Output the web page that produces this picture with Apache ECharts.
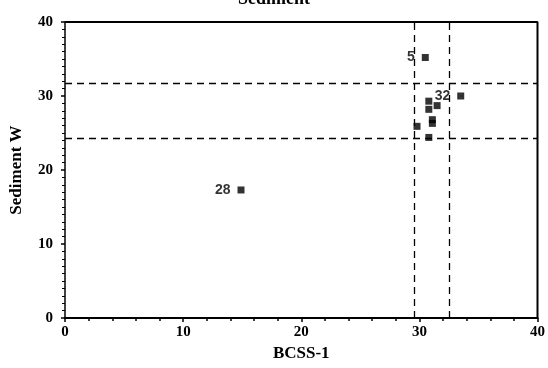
<!DOCTYPE html>
<html>
<head>
<meta charset="utf-8">
<script src="https://cdn.jsdelivr.net/npm/echarts@6/dist/echarts.min.js"></script>
<style>
  html, body { margin: 0; padding: 0; background: #fff; }
  #chart { width: 548px; height: 368px; }
</style>
</head>
<body>
<div id="chart"></div>
<script>
// sample values: BCSS-1 (x) vs Sediment W (y)
var bcss = [30.5, 33.5, 30.8, 31.5, 30.8, 31.1, 31.1, 29.8, 30.8, 14.9];
var sediment = [35.2, 30.0, 29.3, 28.7, 28.2, 26.8, 26.3, 25.9, 24.4, 17.3];
var pointNames = ['5', '32', '', '', '', '', '', '', '', '28'];

// dashed reference lines
var xLines = [29.6, 32.5];
var yLines = [31.7, 24.3];

var xTicks = [0, 10, 20, 30, 40];
var yTicks = [0, 10, 20, 30, 40];

scatter_chart();

function scatter_chart(){
    var chart = echarts.init(document.getElementById('chart'));

    var points = new Array();
    for (var i = 0; i < bcss.length; i++) {
        points.push({
            value: [bcss[i], sediment[i]],
            label: { show: pointNames[i] !== '', formatter: pointNames[i] }
        });
    }

    var marks = new Array();
    for (var i = 0; i < xLines.length; i++) marks.push({ xAxis: xLines[i] });
    for (var i = 0; i < yLines.length; i++) marks.push({ yAxis: yLines[i] });

    var font = '"Liberation Serif", "DejaVu Serif", serif';

    var option = {
        animation: false,
        backgroundColor: '#fff',
        title: {
            text: 'Sediment',
            left: 'center',
            top: -15,
            textStyle: { fontFamily: font, fontWeight: 'bold', fontSize: 18, color: '#000' }
        },
        grid: { left: 65, right: 7, top: 22, bottom: 50 },
        xAxis: {
            type: 'value',
            min: xTicks[0],
            max: xTicks[xTicks.length - 1],
            interval: 10,
            name: 'BCSS-1',
            nameLocation: 'middle',
            nameGap: 26,
            nameTextStyle: { fontFamily: font, fontWeight: 'bold', fontSize: 17, color: '#000' },
            axisLine: { show: true, lineStyle: { color: '#000', width: 2 } },
            axisTick: { show: true, length: 4, lineStyle: { color: '#000', width: 1.5 } },
            minorTick: { show: true, splitNumber: 5, length: 3, lineStyle: { color: '#000', width: 1.5 } },
            splitLine: { show: false },
            axisLabel: { fontFamily: font, fontWeight: 'bold', fontSize: 15, color: '#000', margin: 7 }
        },
        yAxis: {
            type: 'value',
            min: yTicks[0],
            max: yTicks[yTicks.length - 1],
            interval: 10,
            name: 'Sediment W',
            nameLocation: 'middle',
            nameGap: 40,
            nameRotate: 90,
            nameTextStyle: { fontFamily: font, fontWeight: 'bold', fontSize: 17, color: '#000' },
            axisLine: { show: true, lineStyle: { color: '#000', width: 1.5 } },
            axisTick: { show: true, length: 4, lineStyle: { color: '#000', width: 1.5 } },
            minorTick: { show: true, splitNumber: 10, length: 3, lineStyle: { color: '#000', width: 1 } },
            splitLine: { show: false },
            axisLabel: { fontFamily: font, fontWeight: 'bold', fontSize: 15, color: '#000', margin: 12 }
        },
        series: [{
            type: 'scatter',
            symbol: 'rect',
            symbolSize: 7,
            itemStyle: { color: '#000' },
            label: {
                position: 'left',
                distance: 7,
                fontFamily: '"Liberation Sans", Arial, sans-serif',
                fontWeight: 'bold',
                fontSize: 14,
                color: '#000'
            },
            data: points,
            markLine: {
                silent: true,
                symbol: ['none', 'none'],
                label: { show: false },
                lineStyle: { color: '#000', type: [7, 5], width: 1.3 },
                data: marks
            }
        }, {
            // frame on top and right
            type: 'line',
            silent: true,
            symbol: 'none',
            lineStyle: { color: '#000', width: 2 },
            data: [[0, 40], [40, 40], [40, 0]]
        }]
    };
    chart.setOption(option);
}
</script>
</body>
</html>
